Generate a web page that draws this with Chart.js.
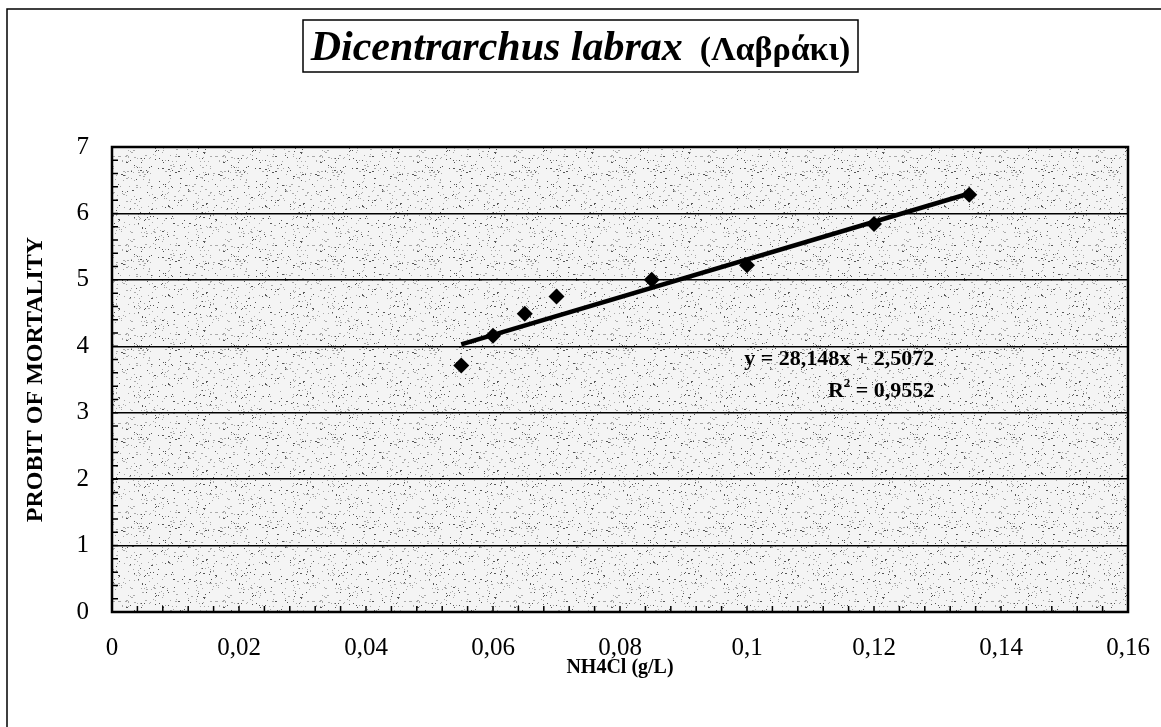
<!DOCTYPE html>
<html>
<head>
<meta charset="utf-8">
<script src="https://cdn.jsdelivr.net/npm/chart.js@4"></script>
<style>
  html, body { margin: 0; padding: 0; background: #fff; }
  #wrap { width: 1161px; height: 727px; }
</style>
</head>
<body>
<div id="wrap"><canvas id="probitChart" width="1161" height="727"></canvas></div>
<script>
// data
var concentrations = [0.055, 0.06, 0.065, 0.07, 0.085, 0.1, 0.12, 0.135];
var probits = [3.71, 4.16, 4.49, 4.75, 5.00, 5.22, 5.84, 6.28];
var trendX = [0.055, 0.135];
var trendY = [4.03, 6.30];
var xTickLabels = ['0', '0,02', '0,04', '0,06', '0,08', '0,1', '0,12', '0,14', '0,16'];
var yTickLabels = ['0', '1', '2', '3', '4', '5', '6', '7'];
var equationText = 'y = 28,148x + 2,5072';
var rSquaredText = '0,9552';

var SERIF = '"Liberation Serif", "DejaVu Serif", serif';

function toPoints(xs, ys) {
  var pts = [];
  for (var i = 0; i < xs.length; i++) pts.push({ x: xs[i], y: ys[i] });
  return pts;
}

// speckled background like the scanned original
function makeSpeckle() {
  var c = document.createElement('canvas');
  c.width = 97; c.height = 89;
  var g = c.getContext('2d');
  g.fillStyle = '#f4f4f4';
  g.fillRect(0, 0, c.width, c.height);
  var s = 12345;
  for (var i = 0; i < 420; i++) {
    s = (s * 1103515245 + 12345) % 2147483648;
    var px = s % c.width;
    s = (s * 1103515245 + 12345) % 2147483648;
    var py = s % c.height;
    g.fillStyle = (i % 3 == 0) ? '#555' : '#aaa';
    g.fillRect(px, py, (i % 5 == 0) ? 2 : 1, 1);
  }
  return c;
}

var framePlugin = {
  id: 'frame',
  beforeDraw: function(chart) {
    var ctx = chart.ctx, a = chart.chartArea;
    ctx.save();
    ctx.fillStyle = ctx.createPattern(makeSpeckle(), 'repeat');
    ctx.fillRect(a.left, a.top, a.right - a.left, a.bottom - a.top);
    ctx.restore();
  },
  afterDraw: function(chart) {
    var ctx = chart.ctx, a = chart.chartArea;
    var xs = chart.scales.x, ys = chart.scales.y;
    ctx.save();
    // minor ticks
    ctx.strokeStyle = '#000';
    ctx.lineWidth = 1.5;
    ctx.beginPath();
    for (var i = 1; i < 40; i++) {
      var px = xs.getPixelForValue(i * 0.004);
      ctx.moveTo(px, a.bottom);
      ctx.lineTo(px, a.bottom - 6);
    }
    for (var j = 1; j < 35; j++) {
      var py = ys.getPixelForValue(j * 0.2);
      ctx.moveTo(a.left, py);
      ctx.lineTo(a.left + 6, py);
    }
    ctx.stroke();
    // plot frame
    ctx.lineWidth = 2.5;
    ctx.strokeRect(a.left, a.top, a.right - a.left, a.bottom - a.top);
    // outer frame (top and left only)
    ctx.lineWidth = 1.5;
    ctx.beginPath();
    ctx.moveTo(7, 727);
    ctx.lineTo(7, 9);
    ctx.lineTo(1161, 9);
    ctx.stroke();
    // title box
    ctx.lineWidth = 1.5;
    ctx.strokeRect(303, 20, 555, 52);
    var f1 = 'italic bold 42px ' + SERIF;
    var f2 = 'bold 34px ' + SERIF;
    ctx.font = f1;
    var w1 = ctx.measureText('Dicentrarchus labrax').width;
    ctx.font = f2;
    var w2 = ctx.measureText('  (Λαβράκι)').width;
    var tx = 303 + (555 - w1 - w2) / 2;
    ctx.fillStyle = '#000';
    ctx.textBaseline = 'alphabetic';
    ctx.textAlign = 'left';
    ctx.font = f1;
    ctx.fillText('Dicentrarchus labrax', tx, 60);
    ctx.font = f2;
    ctx.fillText('  (Λαβράκι)', tx + w1, 60);
    // trendline equation
    var ex = xs.getPixelForValue(0.1295);
    ctx.font = 'bold 22px ' + SERIF;
    ctx.textAlign = 'right';
    ctx.textBaseline = 'middle';
    ctx.fillText(equationText, ex, ys.getPixelForValue(3.81));
    var ry = ys.getPixelForValue(3.32);
    var wr = ctx.measureText(' = ' + rSquaredText).width;
    ctx.fillText(' = ' + rSquaredText, ex, ry);
    ctx.font = 'bold 13px ' + SERIF;
    var w2s = ctx.measureText('2').width;
    ctx.fillText('2', ex - wr, ry - 8);
    ctx.font = 'bold 22px ' + SERIF;
    ctx.fillText('R', ex - wr - w2s, ry);
    ctx.restore();
  }
};

var probitchart;
function initProbitChart()
{
  var options = {
    type: 'scatter',
    data: {
      datasets: [
        {
          label: 'Probit',
          data: toPoints(concentrations, probits),
          pointStyle: 'rectRot',
          pointRadius: 8,
          backgroundColor: '#000',
          borderColor: '#000',
          borderWidth: 0,
          showLine: false,
          order: 1
        },
        {
          label: 'Linear',
          data: toPoints(trendX, trendY),
          showLine: true,
          borderColor: '#000',
          borderWidth: 4.5,
          pointRadius: 0,
          order: 2
        }
      ]
    },
    options: {
      responsive: false,
      animation: false,
      layout: { padding: { left: 0, right: 33, top: 147, bottom: 0 } },
      plugins: {
        legend: { display: false },
        tooltip: { enabled: false },
        title: { display: false }
      },
      scales: {
        x: {
          type: 'linear',
          min: 0,
          max: 0.16,
          ticks: {
            stepSize: 0.02,
            color: '#000',
            font: { family: SERIF, size: 25 },
            padding: 21,
            maxRotation: 0,
            callback: function(v, i) { return xTickLabels[i]; }
          },
          grid: { display: false, drawTicks: false },
          border: { display: false },
          title: {
            display: true,
            text: 'NH4Cl (g/L)',
            color: '#000',
            font: { family: SERIF, size: 20, weight: 'bold' },
            padding: { top: 0, bottom: 47 }
          },
          afterFit: function(scale) {
            scale.height = 115;
            scale.paddingLeft = 0;
            scale.paddingRight = 0;
          }
        },
        y: {
          type: 'linear',
          min: 0,
          max: 7,
          ticks: {
            stepSize: 1,
            color: '#000',
            font: { family: SERIF, size: 25 },
            padding: 23,
            callback: function(v, i) { return yTickLabels[i]; }
          },
          grid: { color: '#000', lineWidth: 1.5, drawTicks: false },
          border: { display: false },
          title: {
            display: true,
            text: 'PROBIT OF MORTALITY',
            color: '#000',
            font: { family: SERIF, size: 24, weight: 'bold' },
            padding: { top: 21, bottom: 0 }
          },
          afterFit: function(scale) { scale.width = 112; }
        }
      }
    },
    plugins: [framePlugin]
  };

  var ctx = document.getElementById('probitChart').getContext('2d');
  probitchart = new Chart(ctx, options);
}
initProbitChart();
</script>
</body>
</html>
